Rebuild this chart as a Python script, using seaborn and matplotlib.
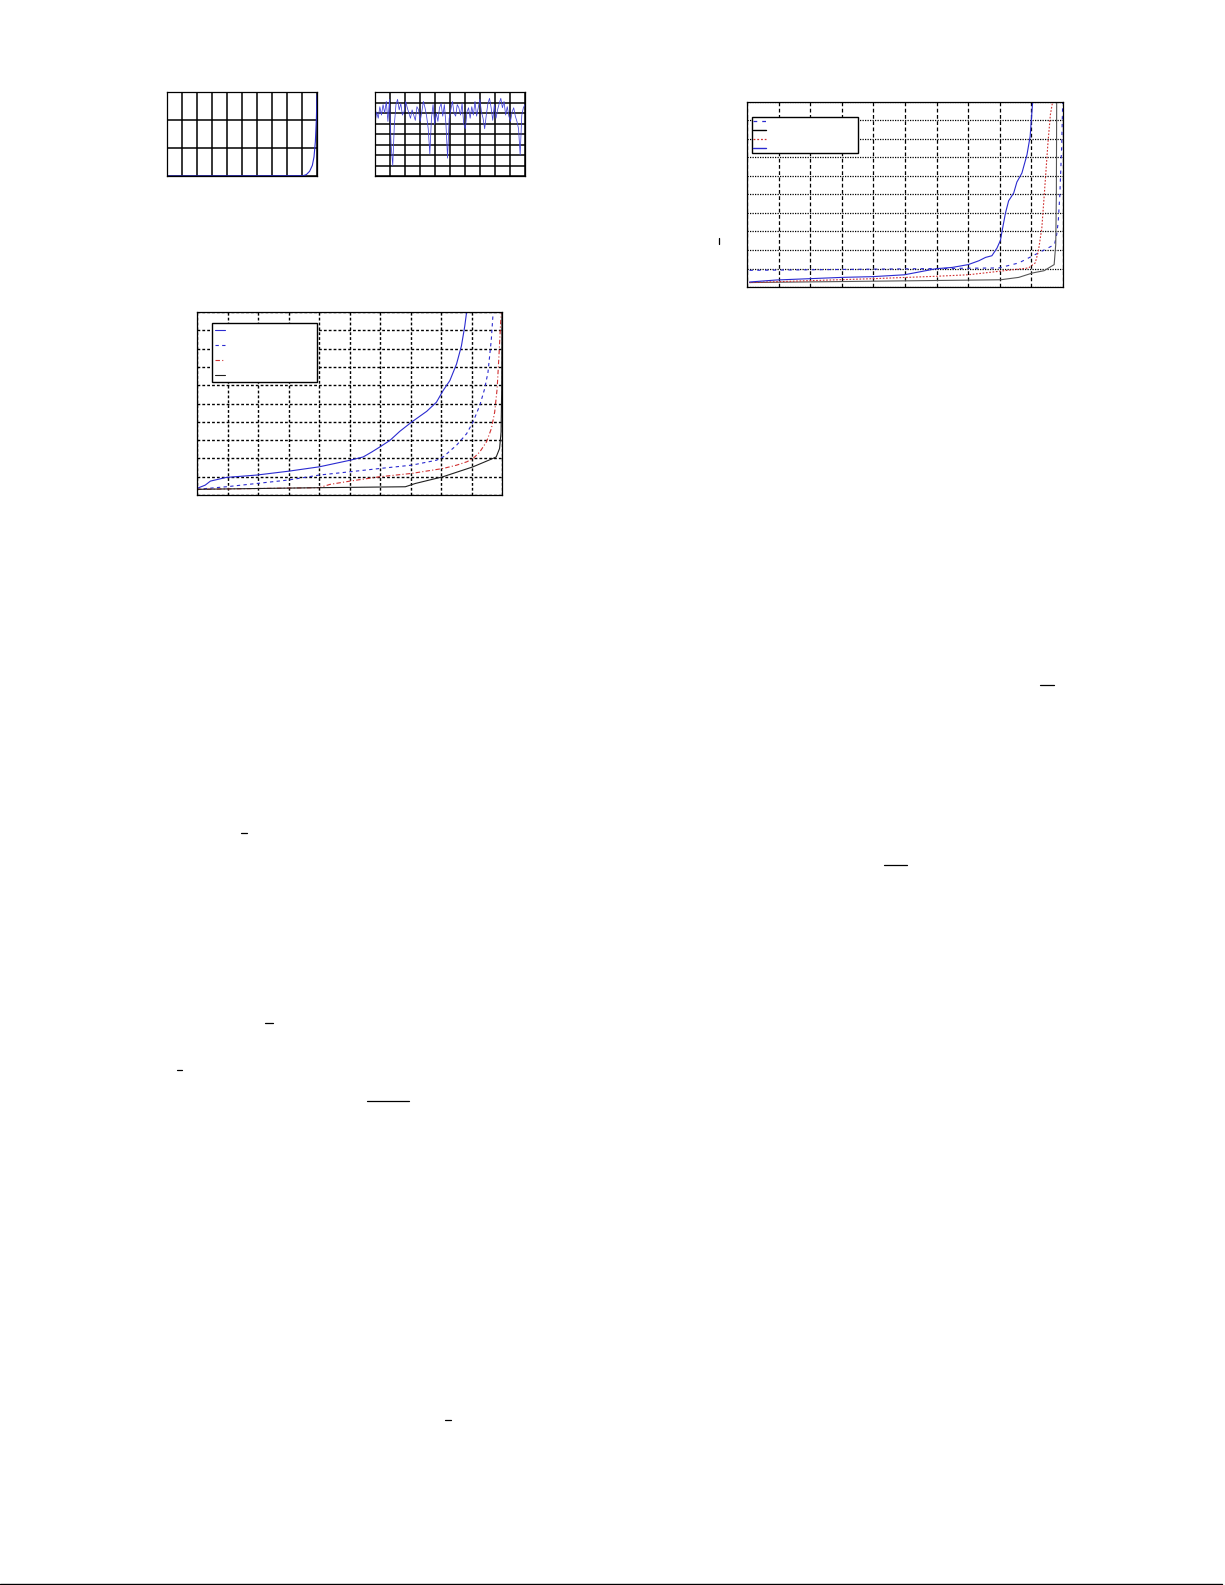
import numpy as np
import pandas as pd
import seaborn as sns
import matplotlib.pyplot as plt
from matplotlib.lines import Line2D

W, H = 1225, 1585

# top-left panel: flat curve that shoots up at the end
a_x = [0, 90.7, 92.9, 95.1, 96.9, 98.0, 98.9, 99.6, 100]
a_y = [0, 0.01, 0.05, 0.17, 0.38, 0.68, 1.22, 2.06, 2.9]

# top-right panel: noisy trace
b_y = [5.0, 6.1, 5.5, 6.6, 5.8, 6.8, 6.0, 7.1, 5.2, 7.3, 2.9, 1.0, 4.9, 6.8, 7.3,
       6.3, 6.9, 5.8, 6.1, 7.1, 6.5, 6.0, 5.5, 6.3, 5.8, 5.3, 6.6, 6.3, 5.2, 6.1,
       7.1, 6.5, 5.7, 4.5, 2.1, 5.5, 6.8, 4.9, 6.0, 5.2, 6.5, 6.9, 5.7, 6.8, 4.9,
       1.7, 5.5, 6.3, 7.1, 6.0, 5.7, 6.8, 6.5, 5.8, 6.9, 5.0, 4.5, 6.1, 6.5, 5.5,
       6.6, 5.8, 7.1, 5.7, 6.5, 7.3, 6.1, 5.5, 4.5, 5.8, 6.9, 7.4, 6.5, 5.3, 6.8,
       5.5, 6.3, 6.9, 7.4, 6.5, 7.1, 5.8, 6.6, 5.7, 5.2, 6.1, 6.5, 5.7, 5.2, 4.5,
       2.0, 5.8, 6.5, 6.8]

# middle-left panel: four curves
c_blue_x = [0, 2.7, 4.4, 9.6, 19.6, 30.0, 40.1, 50.2, 54.5, 57.3, 60.0, 63.3, 66.5,
            70.4, 75.3, 78.5, 80.7, 82.9, 85.1, 86.7, 87.8, 88.4]
c_blue_y = [0.36, 0.54, 0.76, 0.96, 1.09, 1.30, 1.54, 1.90, 2.08, 2.35, 2.63, 2.99, 3.48,
            3.99, 4.57, 5.07, 5.71, 6.25, 7.16, 8.15, 9.24, 10.0]
c_dash_x = [0, 9.6, 19.6, 30.0, 40.1, 50.2, 60.0, 70.4, 78.5, 80.7, 85.1, 88.4, 90.5,
            92.7, 94.3, 95.4, 96.5, 97.1]
c_dash_y = [0.31, 0.45, 0.63, 0.82, 1.09, 1.27, 1.45, 1.63, 1.90, 2.08, 2.72, 3.35, 3.99,
            4.89, 5.80, 6.70, 8.50, 10.0]
c_red_x = [0, 40.1, 43.6, 50.2, 60.0, 70.4, 80.7, 85.1, 88.4, 90.5, 92.7, 94.9, 96.5,
           97.6, 98.4, 99.0, 99.5, 99.8]
c_red_y = [0.31, 0.40, 0.58, 0.76, 1.00, 1.18, 1.45, 1.63, 1.81, 1.99, 2.35, 2.90, 3.62,
           4.53, 5.80, 7.60, 9.24, 10.0]
c_black_x = [0, 40.1, 68.3, 71.6, 80.7, 90.5, 96.5, 98.1, 99.2, 99.7, 99.9, 100]
c_black_y = [0.31, 0.40, 0.45, 0.63, 1.00, 1.54, 1.96, 2.08, 2.54, 3.44, 5.80, 10.0]

# right panel: four curves
d_blue_x = [0.08, 0.94, 1.99, 3.01, 3.98, 4.98, 5.99, 6.5, 7.0, 7.34, 7.55, 7.75, 7.91,
            8.02, 8.09, 8.18, 8.28, 8.44, 8.54, 8.70, 8.86, 8.96, 9.01, 9.04]
d_blue_y = [0.27, 0.38, 0.45, 0.52, 0.56, 0.66, 0.99, 1.06, 1.21, 1.42, 1.60, 1.69, 2.10,
            2.52, 3.19, 4.00, 4.66, 5.08, 5.67, 6.16, 7.15, 8.14, 9.31, 10.0]
d_dash_x = [0.08, 7.97, 8.6, 8.91, 9.22, 9.73, 9.80, 9.85, 9.90, 9.96, 9.99]
d_dash_y = [0.90, 1.03, 1.30, 1.57, 1.84, 2.29, 2.83, 3.55, 4.99, 7.70, 10.0]
d_red_x = [0.08, 3.98, 5.99, 7.0, 8.91, 9.12, 9.22, 9.33, 9.43, 9.52, 9.60, 9.67]
d_red_y = [0.24, 0.45, 0.58, 0.66, 1.03, 1.30, 1.93, 3.19, 5.53, 7.70, 9.31, 10.0]
d_black_x = [0.08, 8.02, 8.6, 9.04, 9.4, 9.72, 9.77, 9.79, 9.80]
d_black_y = [0.24, 0.39, 0.52, 0.76, 0.88, 1.21, 2.29, 4.99, 10.0]

# leftover rules from the page (pixel coords)
page_marks = [((719, 238), (719, 244)), ((1040, 685), (1054, 685)),
              ((884, 865), (907, 865)), ((241, 833), (247, 833)),
              ((265, 1023), (273, 1023)), ((177, 1070), (182, 1070)),
              ((367, 1101), (409, 1101)), ((445, 1420), (451, 1420))]

BLUE = "#2a2ad0"
RED = "#d03030"

sns.set_style("white")
fig = plt.figure(figsize=(W / 100, H / 100), dpi=100)


def px_axes(l, t, r, b):
    ax = fig.add_axes([l / W, 1 - b / H, (r - l) / W, (b - t) / H])
    ax.tick_params(length=0, labelbottom=False, labelleft=False)
    ax.set_xlabel("")
    ax.set_ylabel("")
    for s in ax.spines.values():
        s.set_color("black")
        s.set_linewidth(0.9)
    ax.set_axisbelow(True)
    return ax


def line(ax, x, y, color, ls="-", lw=0.8):
    sns.lineplot(x=x, y=y, ax=ax, color=color, linestyle=ls, linewidth=lw,
                 estimator=None, sort=False)
    return ax.lines[-1]


# panel A
ax = px_axes(167, 92, 317, 176)
line(ax, a_x, a_y, BLUE)
ax.set_xlim(0, 100)
ax.set_ylim(0, 3)
ax.set_xticks(np.arange(0, 101, 10))
ax.set_yticks(np.arange(0, 4, 1))
ax.grid(True, color="black", lw=1.1, ls="-")

# panel B
ax = px_axes(375, 92, 525, 176)
b_x = np.arange(len(b_y))
line(ax, b_x, b_y, "#4040d8", lw=0.55)
ax.set_xlim(0, len(b_y) - 1)
ax.set_ylim(0, 8)
ax.set_xticks(np.linspace(0, len(b_y) - 1, 11))
ax.set_yticks(np.arange(0, 9, 1))
ax.grid(True, color="black", lw=1.1, ls="-")

# panel C
ax = px_axes(197, 312, 502, 495)
h1 = line(ax, c_blue_x, c_blue_y, BLUE)
h2 = line(ax, c_dash_x, c_dash_y, BLUE, ls=(0, (3, 3)))
h3 = line(ax, c_red_x, c_red_y, RED, ls=(0, (4, 2, 1, 2)))
h4 = line(ax, c_black_x, c_black_y, "#202020")
ax.set_xlim(0, 100)
ax.set_ylim(0, 10)
ax.set_xticks(np.arange(0, 101, 10))
ax.set_yticks(np.arange(0, 11, 1))
ax.grid(True, color="black", lw=1.0, ls=(0, (2, 1.5)))
ax.legend([h1, h2, h3, h4], ["", "", "", ""], loc="upper left",
          bbox_to_anchor=(0.05, 0.938, 0.344, 0), mode="expand", borderaxespad=0,
          fontsize=6, labelspacing=0.72, borderpad=0.3, handlelength=1.2,
          fancybox=False, framealpha=1, edgecolor="black")

# panel D
ax = px_axes(747, 102, 1063, 287)
g1 = line(ax, d_dash_x, d_dash_y, BLUE, ls=(0, (3, 4)))
g2 = line(ax, d_black_x, d_black_y, "#555555")
g3 = line(ax, d_red_x, d_red_y, RED, ls=(0, (1.5, 1.5)))
g4 = line(ax, d_blue_x, d_blue_y, BLUE)
ax.set_xlim(0, 10)
ax.set_ylim(0, 10)
ax.set_xticks(np.arange(0, 11, 1))
ax.set_yticks(np.arange(0, 11, 1))
ax.xaxis.grid(True, color="black", lw=0.9, ls=(0, (3, 2)))
ax.yaxis.grid(True, color="black", lw=0.9, ls=(0, (1, 1)))
hd = [Line2D([], [], color=BLUE, ls=(0, (3, 4)), lw=0.9),
      Line2D([], [], color="black", lw=1.0),
      Line2D([], [], color=RED, ls=(0, (1.5, 1.5)), lw=0.9),
      Line2D([], [], color=BLUE, lw=1.0)]
ax.legend(hd, ["", "", "", ""], loc="upper left",
          bbox_to_anchor=(0.015, 0.92, 0.337, 0), mode="expand", borderaxespad=0,
          fontsize=4, labelspacing=0.75, borderpad=0.3, handlelength=2.3,
          fancybox=False, framealpha=1, edgecolor="black")

# page leftovers
for (x0, y0), (x1, y1) in page_marks:
    fig.add_artist(Line2D([x0 / W, x1 / W], [1 - y0 / H, 1 - y1 / H],
                          color="black", lw=0.9))
fig.add_artist(Line2D([0, 1222 / W], [1 - 1584 / H, 1 - 1584 / H], color="black", lw=1.0))

fig.savefig("out.png", dpi=100)
